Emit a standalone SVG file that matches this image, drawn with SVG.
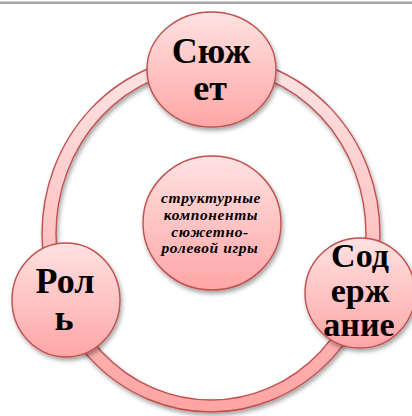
<svg xmlns="http://www.w3.org/2000/svg" width="412" height="416" viewBox="0 0 412 416">
  <defs>
    <linearGradient id="ringGrad" gradientUnits="userSpaceOnUse" x1="0" y1="56" x2="0" y2="412">
      <stop offset="0" stop-color="#ffe4e4"/>
      <stop offset="1" stop-color="#ffa4a4"/>
    </linearGradient>
    <linearGradient id="nodeGrad" x1="0" y1="0" x2="0" y2="1">
      <stop offset="0" stop-color="#ffe2e2"/>
      <stop offset="1" stop-color="#ffa6a6"/>
    </linearGradient>
    <filter id="shadow" x="-20%" y="-20%" width="140%" height="140%">
      <feDropShadow dx="1.5" dy="3" stdDeviation="2" flood-color="#000" flood-opacity="0.35"/>
    </filter>
  </defs>
  <style>
    .node { fill: url(#nodeGrad); stroke: #c0504d; stroke-width: 1.4; filter: url(#shadow); }
    .ring { fill: url(#ringGrad); fill-rule: evenodd; stroke: #c0504d; stroke-width: 1.4; filter: url(#shadow); }
    .big { font-family: "Liberation Serif", "Times New Roman", serif; font-weight: bold; font-size: 36px; fill: #000; text-anchor: middle; }
    .big2 { font-size: 34px; }
    .small { font-family: "Liberation Serif", "Times New Roman", serif; font-weight: bold; font-style: italic; font-size: 15.5px; letter-spacing: 0.6px; fill: #000; text-anchor: middle; }
  </style>
  <rect x="0" y="0" width="412" height="416" fill="#ffffff"/>
  <rect x="0" y="1.5" width="412" height="2.5" fill="#a6a6a6"/>

  <g id="connectors">
    <path class="ring" d="M 42,234 a169,178 0 1,0 338,0 a169,178 0 1,0 -338,0 Z M 56,234 a155,166 0 1,0 310,0 a155,166 0 1,0 -310,0 Z"/>
  </g>

  <g id="node-center">
    <ellipse class="node" cx="212" cy="223" rx="69" ry="67"/>
    <text class="small" x="211" y="203">структурные</text>
    <text class="small" x="211" y="220">компоненты</text>
    <text class="small" x="210" y="237">сюжетно-</text>
    <text class="small" x="210" y="253">ролевой игры</text>
  </g>

  <g id="node-syuzhet">
    <ellipse class="node" cx="211.5" cy="69.5" rx="64.5" ry="57.5"/>
    <text class="big" x="211" y="63">Сюж</text>
    <text class="big" x="210" y="100">ет</text>
  </g>

  <g id="node-rol">
    <ellipse class="node" cx="66" cy="300" rx="54" ry="57"/>
    <text class="big" x="65" y="293">Рол</text>
    <text class="big" x="64" y="330">ь</text>
  </g>

  <g id="node-soderzhanie">
    <ellipse class="node" cx="360" cy="293" rx="55" ry="55"/>
    <text class="big big2" x="360" y="267">Сод</text>
    <text class="big big2" x="360" y="302">ерж</text>
    <text class="big big2" x="359" y="336">ание</text>
  </g>
</svg>
